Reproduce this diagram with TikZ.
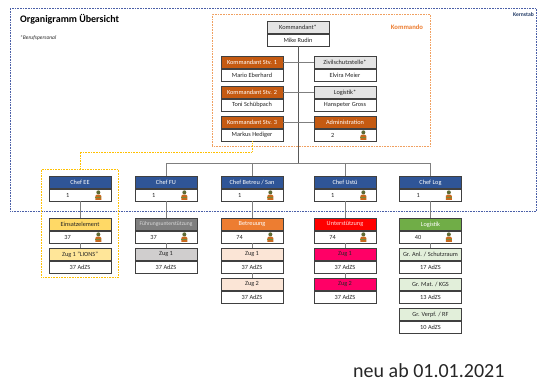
\documentclass[tikz,border=0pt]{standalone}
\usepackage{fontspec}
\setmainfont{Carlito}
\usetikzlibrary{positioning,calc}
\definecolor{boxline}{HTML}{404040}
\definecolor{conngray}{HTML}{7F7F7F}
\definecolor{trunkgray}{HTML}{595959}
\definecolor{hdrgray}{HTML}{E4E4E4}
\definecolor{kdtorange}{HTML}{C55A11}
\definecolor{chefblue}{HTML}{2F5597}
\definecolor{goldA}{HTML}{FFD966}
\definecolor{goldB}{HTML}{FFE699}
\definecolor{fuA}{HTML}{7F7F7F}
\definecolor{fuB}{HTML}{D0CECE}
\definecolor{beA}{HTML}{ED7D31}
\definecolor{beB}{HTML}{FBE5D6}
\definecolor{usA}{HTML}{FF0000}
\definecolor{usB}{HTML}{FF0066}
\definecolor{loA}{HTML}{70AD47}
\definecolor{loB}{HTML}{E2EFDA}
\definecolor{kernblue}{HTML}{4A5FA8}
\definecolor{kernText}{HTML}{1F3864}
\definecolor{kommOrange}{HTML}{F0A060}
\definecolor{kommText}{HTML}{ED7D31}
\definecolor{eeYellow}{HTML}{FFC000}
\definecolor{txtdark}{HTML}{262626}
\definecolor{headOlive}{HTML}{5E6B34}
\definecolor{bodyOrange}{HTML}{C86A1E}
\definecolor{bodyGreen}{HTML}{7A8A3A}
\newcommand\boxfont{\fontsize{6.3}{7}\selectfont}
\tikzset{
  hdr/.style={draw=boxline, line width=0.7pt, minimum width=62pt, minimum height=12pt, inner sep=0pt, font=\boxfont, anchor=north},
  bdy/.style={draw=boxline, line width=0.7pt, fill=white, minimum width=62pt, minimum height=12pt, inner sep=0pt, font=\boxfont, text=txtdark, anchor=north},
  numtxt/.style={font=\boxfont, text=txtdark, inner sep=0pt},
  conn/.style={draw=conngray, line width=0.8pt},
  trunk/.style={draw=trunkgray, line width=0.8pt},
  dotframe/.style={line width=0.6pt, dash pattern=on 0.8pt off 0.8pt, fill=none, inner sep=0pt, anchor=north west},
}
\newcommand\mkbox[7]{%
  \node[hdr, fill=#4, text=#5] (#1-h) at (#2,#3) {#6};
  \node[bdy] (#1-b) at (#1-h.south) {#7};
}
\newcommand\person[1]{%
  \begin{scope}[shift={(#1)}]
    \fill[bodyOrange] (-3,4.8) -- (-3,0.8) to[out=90,in=180] (-1.5,-0.4) -- (1.5,-0.4) to[out=0,in=90] (3,0.8) -- (3,4.8) -- cycle;
    \fill[bodyGreen] (-3,2.3) rectangle (3,3.3);
    \fill[headOlive] (0,-2.7) circle (2);
  \end{scope}
}
\begin{document}
\begin{tikzpicture}[x=1pt,y=-1pt]
\useasboundingbox (0,0) rectangle (537,381);
\fill[white] (0,0) rectangle (537,381);

% frames
\node[dotframe, draw=kernblue, minimum width=526pt, minimum height=203pt] (kernframe) at (10,8) {};
\node[dotframe, draw=kommOrange, minimum width=218pt, minimum height=132pt] (kommframe) at (212,14) {};
\node[dotframe, draw=eeYellow, minimum width=77pt, minimum height=108pt] (eeframe) at (41,169) {};

% texts
\node[anchor=west, inner sep=0pt, font=\fontsize{10}{12}\selectfont\bfseries, text=black] (title) at (20,19) {Organigramm Übersicht};
\node[anchor=west, inner sep=0pt, font=\fontsize{5.5}{6}\selectfont\itshape, text=txtdark] (beruf) at (20,38) {*Berufspersonal};
\node[anchor=east, inner sep=0pt, font=\fontsize{5.6}{6}\selectfont\bfseries, text=kernText] (kernlbl) at (534,15) {Kernstab};
\node[inner sep=0pt, font=\fontsize{6.7}{7}\selectfont\bfseries, text=kommText] (kommlbl) at (407,27) {Kommando};
\node[anchor=base west, inner sep=0pt, font=\fontsize{20}{22}\selectfont, text=txtdark] (neu) at (353,377) {neu ab 01.01.2021};

% Kommando
\mkbox{kdt}{298}{21}{hdrgray}{txtdark}{Kommandant*}{Mike Rudin}
\mkbox{stv1}{252}{56}{kdtorange}{white}{Kommandant Stv. 1}{Mario Eberhard}
\mkbox{stv2}{252}{86}{kdtorange}{white}{Kommandant Stv. 2}{Toni Schübpach}
\mkbox{stv3}{252}{116}{kdtorange}{white}{Kommandant Stv. 3}{Markus Hediger}
\mkbox{zsst}{345}{56}{hdrgray}{txtdark}{Zivilschutzstelle*}{Elvira Meier}
\mkbox{logk}{345}{86}{hdrgray}{txtdark}{Logistik*}{Hanspeter Gross}
\mkbox{adm}{345}{116}{kdtorange}{white}{Administration}{}
\node[numtxt] (adm-n) at ([xshift=19pt]adm-b.west) {2};
\person{[xshift=-13pt]adm-b.east}

% Chefs
\mkbox{cee}{80}{176}{chefblue}{white}{Chef EE}{}
\mkbox{cfu}{166}{176}{chefblue}{white}{Chef FU}{}
\mkbox{cbe}{252}{176}{chefblue}{white}{Chef Betreu / San}{}
\mkbox{cus}{345}{176}{chefblue}{white}{Chef Ustü}{}
\mkbox{clo}{430.5}{176}{chefblue}{white}{Chef Log}{}
\foreach \n in {cee,cfu,cbe,cus,clo}{
  \node[numtxt] (\n-n) at ([xshift=19pt]\n-b.west) {1};
  \person{[xshift=-13pt]\n-b.east}
}

% level 2
\mkbox{ee}{80}{218}{goldA}{txtdark}{Einsatzelement}{}
\mkbox{fu}{166}{218}{fuA}{white!85!black, font=\fontsize{5.6}{6}\selectfont}{Führungsunterstützung}{}
\mkbox{be}{252}{218}{beA}{white}{Betreuung}{}
\mkbox{us}{345}{218}{usA}{white!85!red}{Unterstützung}{}
\mkbox{lo}{430.5}{218}{loA}{white}{Logistik}{}
\node[numtxt] (ee-n) at ([xshift=19pt]ee-b.west) {37};
\node[numtxt] (fu-n) at ([xshift=19pt]fu-b.west) {37};
\node[numtxt] (be-n) at ([xshift=19pt]be-b.west) {74};
\node[numtxt] (us-n) at ([xshift=19pt]us-b.west) {74};
\node[numtxt] (lo-n) at ([xshift=19pt]lo-b.west) {40};
\foreach \n in {ee,fu,be,us,lo}{
  \person{[xshift=-13pt]\n-b.east}
}

% level 3
\mkbox{eez}{80}{248}{goldB}{txtdark}{Zug 1 "LIONS"}{37 AdZS}
\mkbox{fuz}{166}{248}{fuB}{txtdark}{Zug 1}{37 AdZS}
\mkbox{bez1}{252}{248}{beB}{txtdark}{Zug 1}{37 AdZS}
\mkbox{bez2}{252}{278}{beB}{txtdark}{Zug 2}{37 AdZS}
\mkbox{usz1}{345}{248}{usB}{txtdark}{Zug 1}{37 AdZS}
\mkbox{usz2}{345}{278}{usB}{txtdark}{Zug 2}{37 AdZS}
\mkbox{log1}{430.5}{248}{loB}{txtdark}{Gr. Anl. / Schutzraum}{17 AdZS}
\mkbox{log2}{430.5}{278}{loB}{txtdark}{Gr. Mat. / KGS}{13 AdZS}
\mkbox{log3}{430.5}{308}{loB}{txtdark}{Gr. Verpf. / RF}{10 AdZS}

% connectors in Kommando
\coordinate (busL) at (166,163);
\coordinate (busR) at (430.5,163);
\coordinate (busM) at (298,163);
\draw[trunk] (kdt-b.south) -- (busM);
\draw[conn] (stv1-h.east) -- (zsst-h.west);
\draw[conn] (stv2-h.east) -- (logk-h.west);
\draw[conn] (stv3-h.east) -- (adm-h.west);
\draw[conn] (busL) -- (busR);
\foreach \n in {cfu,cbe,cus,clo}{
  \draw[conn] (\n-h.north |- busL) -- (\n-h.north);
}
% yellow dotted link to EE
\draw[draw=eeYellow, line width=0.6pt, dash pattern=on 0.8pt off 0.8pt] (stv3-b.south) -- ++(0,11) -| (eeframe.north);

% lower connectors
\draw[conn] (cee-b.south) -- (ee-h.north);
\draw[conn] (ee-b.south) -- (eez-h.north);
\draw[conn] (cfu-b.south) -- (fu-h.north);
\draw[conn] (fu-b.south) -- (fuz-h.north);
\draw[conn] (cbe-b.south) -- (be-h.north);
\draw[conn] (be-b.south) -- (bez1-h.north);
\draw[conn] (bez1-b.south) -- (bez2-h.north);
\draw[conn] (cus-b.south) -- (us-h.north);
\draw[conn] (us-b.south) -- (usz1-h.north);
\draw[conn] (usz1-b.south) -- (usz2-h.north);
\draw[conn] (clo-b.south) -- (lo-h.north);
\draw[conn] (lo-b.south) -- (log1-h.north);
\end{tikzpicture}
\end{document}
